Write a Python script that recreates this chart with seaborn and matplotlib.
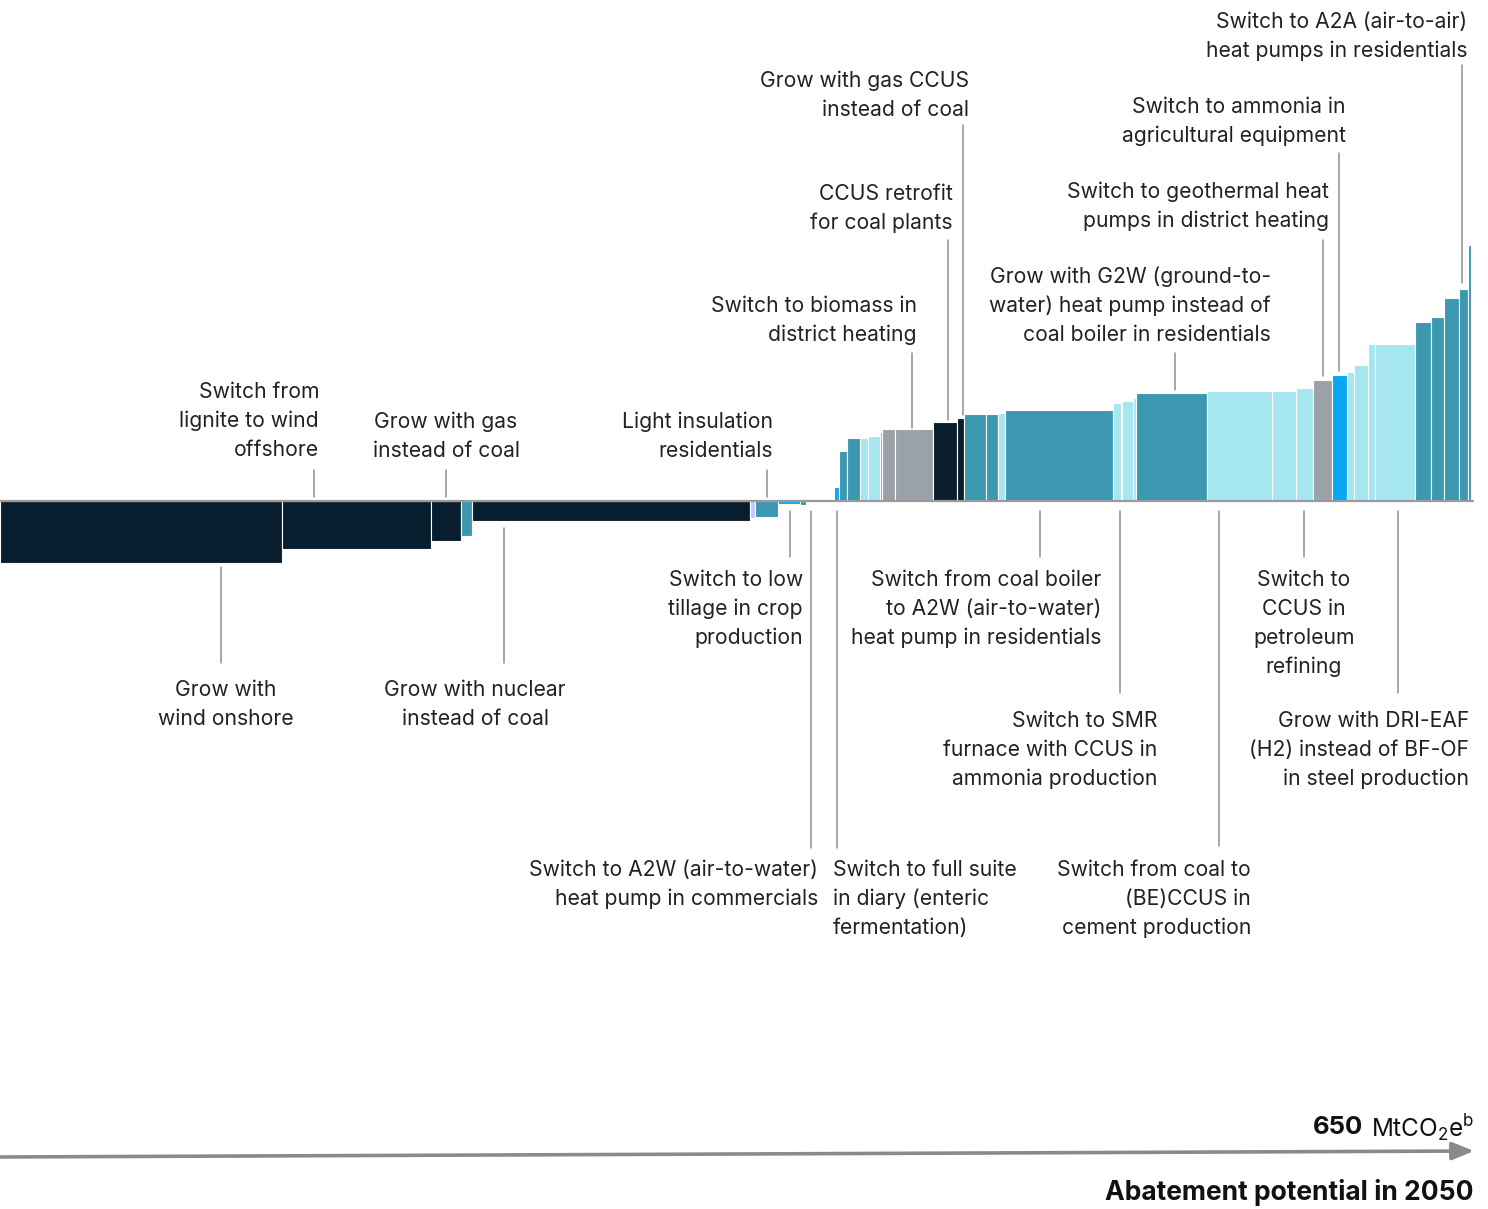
import numpy as np
import pandas as pd
import matplotlib
matplotlib.use("Agg")
import matplotlib.pyplot as plt
import seaborn as sns

# ---------------- data ----------------
# abatement potential of each lever (MtCO2e, bar widths)
widths = [124.6, 65.8, 13.3, 4.9, 122.8, 2.2, 10.2, 9.7, 2.7, 9.7,
          2.7, 2.2, 3.5, 5.7, 3.5, 5.3, 0.9, 5.7, 16.8, 10.6,
          3.1, 9.7, 5.3, 3.1, 47.7, 3.5, 0.4, 4.9, 1.3, 31.4,
          28.7, 10.6, 7.5, 8.8, 6.2, 3.1, 6.6, 2.7, 17.7, 7.1,
          5.7, 6.6, 4.0, 1.3]
# abatement cost of each lever (relative units, bar heights)
costs = [-62, -48, -40, -35, -20, -17, -16, -3, -4, 0,
         2, 14, 50, 63, 63, 65, 69, 72, 72, 79,
         83, 87, 87, 88, 91, 98, 98, 100, 103, 108,
         110, 110, 113, 121, 126, 129, 136, 157, 157, 179,
         184, 203, 212, 256]
# sector group of each lever
groups = ["power", "power", "power", "build", "power", "other", "build", "agri", "build", "heat",
          "build", "agri", "build", "build", "heat", "heat", "district", "district", "district", "power",
          "power", "build", "build", "heat", "build", "heat", "agri", "heat", "heat", "build",
          "heat", "heat", "heat", "district", "agri", "heat", "heat", "heat", "heat", "build",
          "build", "build", "build", "build"]

palette = {"power": "#081d2d", "build": "#3b98b0", "heat": "#a6e6f0",
           "district": "#9aa1a8", "agri": "#06a8f4", "other": "#c3c9f5"}

total_label = "650"

df = pd.DataFrame({"width": widths, "cost": costs, "group": groups})
df["left"] = np.concatenate([[0], np.cumsum(df["width"].values)[:-1]])

# ---------------- figure ----------------
sns.set_theme(style="white")
plt.rcParams["font.family"] = ["Inter", "DejaVu Sans"]
plt.rcParams["mathtext.fontset"] = "custom"
plt.rcParams["mathtext.rm"] = "Inter"

W, H = 1488, 1209
fig = plt.figure(figsize=(W / 100, H / 100), dpi=100)
ax = fig.add_axes([0, 0, 1, 1])
K = 650 / 1471.0          # Mt per pixel
BASE = 501                # baseline pixel row
ax.set_xlim(0, W * K)
ax.set_ylim(BASE - H, BASE)
ax.axis("off")

def X(px):
    return px * K

def Y(py):
    return BASE - py

ax.bar(df["left"], df["cost"], width=df["width"], align="edge",
       color=[palette[g] for g in df["group"]], edgecolor="#ffffff",
       linewidth=0.8, zorder=2)

# baseline
ax.plot([X(0), X(1473)], [0, 0], color="#9a9a9a", lw=1.6, zorder=3)

TXT = "#222222"
LINE = "#8f8f8f"
FS = 15.2
DY = 2

def label(lines, x, ys, ha="right"):
    for t, y in zip(lines, ys):
        ax.text(X(x), Y(y + DY), t, ha=ha, va="center", fontsize=FS, color=TXT)

def leader(x, y0, y1):
    ax.plot([X(x), X(x)], [Y(y0), Y(y1)], color=LINE, lw=1.1, zorder=1)

# above baseline
label(["Switch from", "lignite to wind", "offshore"], 319, [390, 419, 448])
leader(314, 470, 497)
label(["Grow with gas", "instead of coal"], 446, [420, 449], ha="center")
leader(446, 470, 497)
label(["Light insulation", "residentials"], 773, [420, 449])
leader(767, 470, 497)
label(["Switch to biomass in", "district heating"], 917, [304, 333])
leader(912, 353, 428)
label(["CCUS retrofit", "for coal plants"], 953, [192, 221])
leader(948, 240, 420)
label(["Grow with gas CCUS", "instead of coal"], 969, [79, 108])
leader(963, 125, 415)
label(["Grow with G2W (ground-to-", "water) heat pump instead of",
       "coal boiler in residentials"], 1271, [275, 304, 333])
leader(1175, 353, 390)
label(["Switch to geothermal heat", "pumps in district heating"], 1329, [190, 219])
leader(1323, 240, 376)
label(["Switch to ammonia in", "agricultural equipment"], 1346, [105, 134])
leader(1339, 153, 371)
label(["Switch to A2A (air-to-air)", "heat pumps in residentials"], 1467, [20, 49])
leader(1462, 65, 283)

# below baseline
label(["Grow with", "wind onshore"], 226, [688, 717], ha="center")
leader(221, 567, 663)
label(["Grow with nuclear", "instead of coal"], 475, [688, 717], ha="center")
leader(504, 528, 663)
label(["Switch to low", "tillage in crop", "production"], 803, [578, 607, 636])
leader(790, 511, 557)
label(["Switch to A2W (air-to-water)", "heat pump in commercials"], 818, [868, 897])
leader(811, 511, 848)
label(["Switch to full suite", "in diary (enteric", "fermentation)"], 833, [868, 897, 926], ha="left")
leader(837, 511, 848)
label(["Switch from coal boiler", "to A2W (air-to-water)", "heat pump in residentials"],
      1101, [578, 607, 636])
leader(1040, 511, 557)
label(["Switch to SMR", "furnace with CCUS in", "ammonia production"], 1157, [719, 748, 777])
leader(1120, 511, 693)
label(["Switch from coal to", "(BE)CCUS in", "cement production"], 1251, [868, 897, 926])
leader(1219, 511, 846)
label(["Switch to", "CCUS in", "petroleum", "refining"], 1304, [578, 607, 636, 665], ha="center")
leader(1304, 511, 557)
label(["Grow with DRI-EAF", "(H2) instead of BF-OF", "in steel production"], 1469, [719, 748, 777])
leader(1398, 511, 693)

# bottom axis arrow
ax.annotate("", xy=(X(1474), Y(1151)), xytext=(X(0), Y(1157)),
            arrowprops=dict(arrowstyle="-|>,head_length=1.1,head_width=0.45",
                            color="#8a8a8a", lw=2.6, shrinkA=0, shrinkB=0))

t1 = ax.text(X(1474), Y(1128), r"MtCO$_2$e$^{\rm b}$", ha="right", va="center",
             fontsize=17.5, color="#111111")
fig.canvas.draw()
bb = t1.get_window_extent()
x_left_px = bb.x0
ax.text(X(x_left_px - 7), Y(1128), total_label, ha="right", va="center",
        fontsize=18.5, fontweight="bold", color="#111111")
ax.text(X(1473), Y(1193), "Abatement potential in 2050", ha="right", va="center",
        fontsize=19, fontweight="bold", color="#111111")

fig.savefig("out.png", dpi=100)
